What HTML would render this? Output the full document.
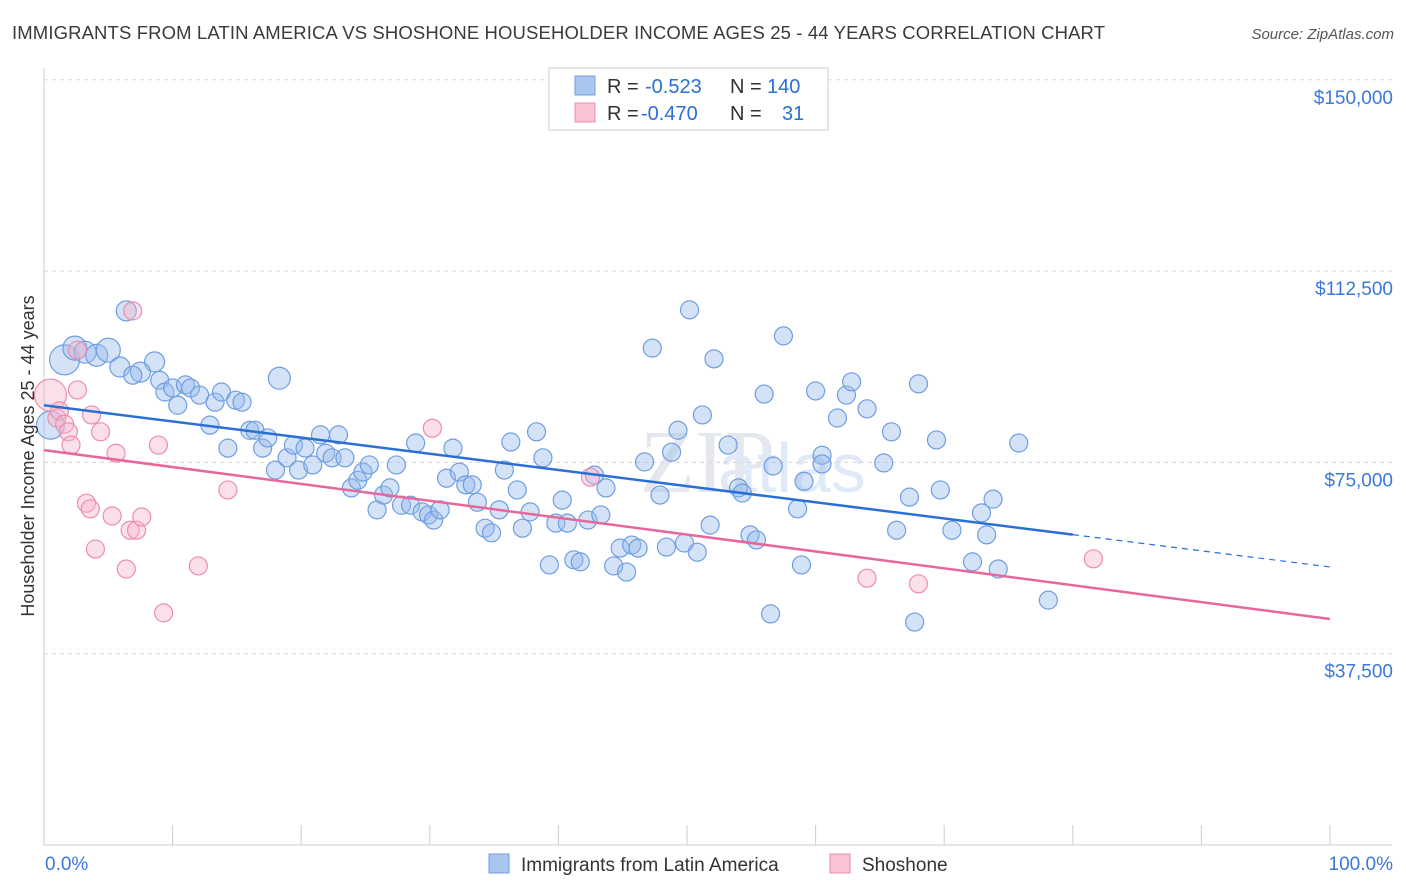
<!DOCTYPE html>
<html><head><meta charset="utf-8"><style>
body{margin:0;background:#fff;font-family:"Liberation Sans",sans-serif;}
#c{position:relative;width:1406px;height:892px;overflow:hidden;}
</style></head><body>
<div id="c">
<svg id="s" width="1406" height="892" xmlns="http://www.w3.org/2000/svg" font-family="Liberation Sans, sans-serif">
<text x="12" y="39" font-size="18.5" fill="#3a3a3a" textLength="1093" lengthAdjust="spacing">IMMIGRANTS FROM LATIN AMERICA VS SHOSHONE HOUSEHOLDER INCOME AGES 25 - 44 YEARS CORRELATION CHART</text>
<text x="1394" y="39" font-size="15" fill="#555" text-anchor="end" font-style="italic">Source: ZipAtlas.com</text>
<text x="640" y="492" font-size="90" fill="#e4e8ee" font-family="Liberation Serif, serif">ZIP</text>
<text x="718" y="492" font-size="70" fill="#dfe9f7">atlas</text>
<g id="grid"></g>
<g id="axes"></g>
<g id="pts"></g>
<g id="lines"></g>
<text transform="translate(34,456) rotate(-90)" font-size="18" fill="#333" text-anchor="middle">Householder Income Ages 25 - 44 years</text>
<g>
<rect x="549" y="68" width="279" height="62" fill="#fff" stroke="#ccc"/>
<rect x="575" y="76" width="20" height="19" fill="#a9c6ee" stroke="#6f9ee0"/>
<text x="607" y="93" font-size="20" fill="#333">R =</text>
<text x="645" y="93" font-size="20" fill="#2a6fd6">-0.523</text>
<text x="730" y="93" font-size="20" fill="#333">N =</text>
<text x="767" y="93" font-size="20" fill="#2a6fd6">140</text>
<rect x="575" y="103" width="20" height="19" fill="#f8c3d5" stroke="#ec8cae"/>
<text x="607" y="120" font-size="20" fill="#333">R =</text>
<text x="641" y="120" font-size="20" fill="#2a6fd6">-0.470</text>
<text x="730" y="120" font-size="20" fill="#333">N =</text>
<text x="782" y="120" font-size="20" fill="#2a6fd6">31</text>
</g>
<g>
<rect x="489" y="854" width="20" height="19" fill="#a9c6ee" stroke="#6f9ee0"/>
<text x="521" y="871" font-size="19" fill="#333">Immigrants from Latin America</text>
<rect x="830" y="854" width="20" height="19" fill="#f8c3d5" stroke="#ec8cae"/>
<text x="862" y="871" font-size="19" fill="#333">Shoshone</text>
</g>
</svg>
</div>
<script>
const yTicks=[37500,75000,112500,150000];
const yTickLabels=["$37,500","$75,000","$112,500","$150,000"];
const xTickLabels=["0.0%","100.0%"];
const blueX=[0.5,1.6,2.4,3.2,4.1,5.0,5.9,6.4,7.5,6.9,8.6,9.0,9.4,10.0,10.4,11.0,11.4,12.1,12.9,13.3,13.8,14.3,14.9,15.4,16.0,16.4,17.0,17.4,18.0,18.3,18.9,19.4,19.8,20.3,20.9,21.5,21.9,22.4,22.9,23.4,23.9,24.4,24.8,25.3,25.9,26.4,26.9,27.4,27.8,28.5,28.9,29.4,29.9,30.3,30.8,31.3,31.8,32.3,32.8,33.3,33.7,34.3,34.8,35.4,35.8,36.3,36.8,37.2,37.8,38.3,38.8,39.3,39.8,40.3,40.7,41.2,41.7,42.3,42.8,43.3,43.7,44.3,44.8,45.3,45.7,46.2,46.7,47.3,47.9,48.4,48.8,49.3,49.8,50.2,50.8,51.2,51.8,52.1,53.2,54.0,54.3,54.9,55.4,56.0,56.5,56.7,57.5,58.6,58.9,59.1,60.0,60.5,60.5,61.7,62.4,62.8,64.0,65.3,65.9,66.3,67.3,67.7,68.0,69.4,69.7,70.6,72.2,72.9,73.3,73.8,74.2,75.8,78.1];
const blueY=[82.3,95.1,97.4,96.6,96.0,97.0,93.7,104.7,92.7,92.1,94.7,91.1,88.8,89.6,86.2,90.2,89.6,88.2,82.3,86.8,88.8,77.8,87.2,86.8,81.3,81.3,77.8,79.8,73.5,91.5,75.9,78.4,73.5,77.8,74.5,80.4,76.8,75.9,80.4,75.9,70.0,71.5,73.1,74.5,65.7,68.6,70.0,74.5,66.6,66.6,78.8,65.3,64.7,63.7,65.7,71.9,77.8,73.1,70.6,70.6,67.2,62.1,61.2,65.7,73.5,79.0,69.6,62.1,65.3,81.0,75.9,54.9,63.1,67.6,63.1,55.9,55.5,63.7,72.5,64.7,70.0,54.7,58.2,53.5,58.8,58.2,75.1,97.4,68.6,58.4,77.0,81.3,59.2,104.9,57.4,84.3,62.7,95.3,78.4,70.0,69.0,60.8,59.8,88.4,45.3,74.3,99.8,65.9,54.9,71.3,89.0,76.4,74.7,83.7,88.2,90.8,85.5,74.9,81.0,61.7,68.2,43.7,90.4,79.4,69.6,61.7,55.5,65.1,60.8,67.8,54.1,78.8,48.0];
const blueR=[14,15,12,11,11,12,10,10,10,9,10,9,9,9,9,9,9,9,9,9,9,9,9,9,9,9,9,9,9,11,9,9,9,9,9,9,9,9,9,9,9,9,9,9,9,9,9,9,9,9,9,9,9,9,9,9,9,9,9,9,9,9,9,9,9,9,9,9,9,9,9,9,9,9,9,9,9,9,9,9,9,9,9,9,9,9,9,9,9,9,9,9,9,9,9,9,9,9,9,9,9,9,9,9,9,9,9,9,9,9,9,9,9,9,9,9,9,9,9,9,9,9,9,9,9,9,9,9,9,9,9,9,9];
const pinkX=[0.5,1.0,1.2,1.6,1.9,2.1,2.6,2.6,3.3,3.6,3.7,4.0,4.4,5.3,5.6,6.4,6.9,6.7,7.2,7.6,8.9,9.3,12.0,14.3,30.2,42.5,64.0,68.0,81.6];
const pinkY=[88.2,83.7,85.1,82.5,81.0,78.4,97.0,89.2,67.0,65.9,84.3,58.0,81.0,64.5,76.8,54.1,104.7,61.7,61.7,64.3,78.4,45.5,54.7,69.6,81.7,72.1,52.3,51.2,56.1];
const pinkR=[16,9,9,9,9,9,9,9,9,9,9,9,9,9,9,9,9,9,9,9,9,9,9,9,9,9,9,9,9];
const blueLine=[86.2,54.5]; const blueSolidEnd=80;
const pinkLine=[77.4,44.3];

const NS="http://www.w3.org/2000/svg";
const X0=44,X1=1330,YB=845,PX_PER_K=191.3/37.5;
const sx=v=>X0+(X1-X0)*v/100;
const sy=k=>YB-k*PX_PER_K;
function mk(tag,attrs,parent){const e=document.createElementNS(NS,tag);for(const k in attrs)e.setAttribute(k,attrs[k]);parent.appendChild(e);return e;}
const grid=document.getElementById('grid'),axes=document.getElementById('axes'),pts=document.getElementById('pts'),lines=document.getElementById('lines');
yTicks.forEach((t,i)=>{const y=sy(t/1000);
 const l=mk('line',{x1:X0,x2:1392,y1:y,y2:y,stroke:'#d8d8d8','stroke-dasharray':'4,4'},grid);
 
 
 const tx=mk('text',{x:1393,y:y+24,'font-size':19,fill:'#3b78d8','text-anchor':'end'},grid);tx.textContent=yTickLabels[i];
 
 
});
const ya=mk('line',{x1:X0,x2:X0,y1:68,y2:YB,stroke:'#ccc'},axes);


const xa=mk('line',{x1:X0,x2:1392,y1:YB,y2:YB,stroke:'#ccc'},axes);


for(let i=0;i<=10;i++){const t=mk('line',{x1:sx(i*10),x2:sx(i*10),y1:YB-20,y2:YB,stroke:'#ccc'},axes);}
[[0,'start',45],[100,'end',1393]].forEach((a,i)=>{const t=mk('text',{x:a[2],y:870,'font-size':19,fill:'#3b78d8','text-anchor':a[1]},axes);t.textContent=xTickLabels[i];
 
 });
blueX.forEach((v,i)=>{const c=mk('circle',{cx:sx(v),cy:sy(blueY[i]),r:blueR[i],fill:'rgba(150,185,235,0.42)',stroke:'#6f9ee0','stroke-width':1.2},pts);
 
 });
pinkX.forEach((v,i)=>{const c=mk('circle',{cx:sx(v),cy:sy(pinkY[i]),r:pinkR[i],fill:'rgba(246,180,205,0.42)',stroke:'#ec8cae','stroke-width':1.2},pts);
 
 });
const bAt=x=>blueLine[0]+(blueLine[1]-blueLine[0])*x/100;
let l1=mk('line',{x1:sx(0),y1:sy(bAt(0)),x2:sx(blueSolidEnd),y2:sy(bAt(blueSolidEnd)),stroke:'#2a6fd6','stroke-width':2.5},lines);


let l2=mk('line',{x1:sx(blueSolidEnd),y1:sy(bAt(blueSolidEnd)),x2:sx(100),y2:sy(bAt(100)),stroke:'#2a6fd6','stroke-width':1.2,'stroke-dasharray':'6,5'},lines);


let l3=mk('line',{x1:sx(0),y1:sy(pinkLine[0]),x2:sx(100),y2:sy(pinkLine[1]),stroke:'#e8679a','stroke-width':2.5},lines);


</script>
</body></html>
